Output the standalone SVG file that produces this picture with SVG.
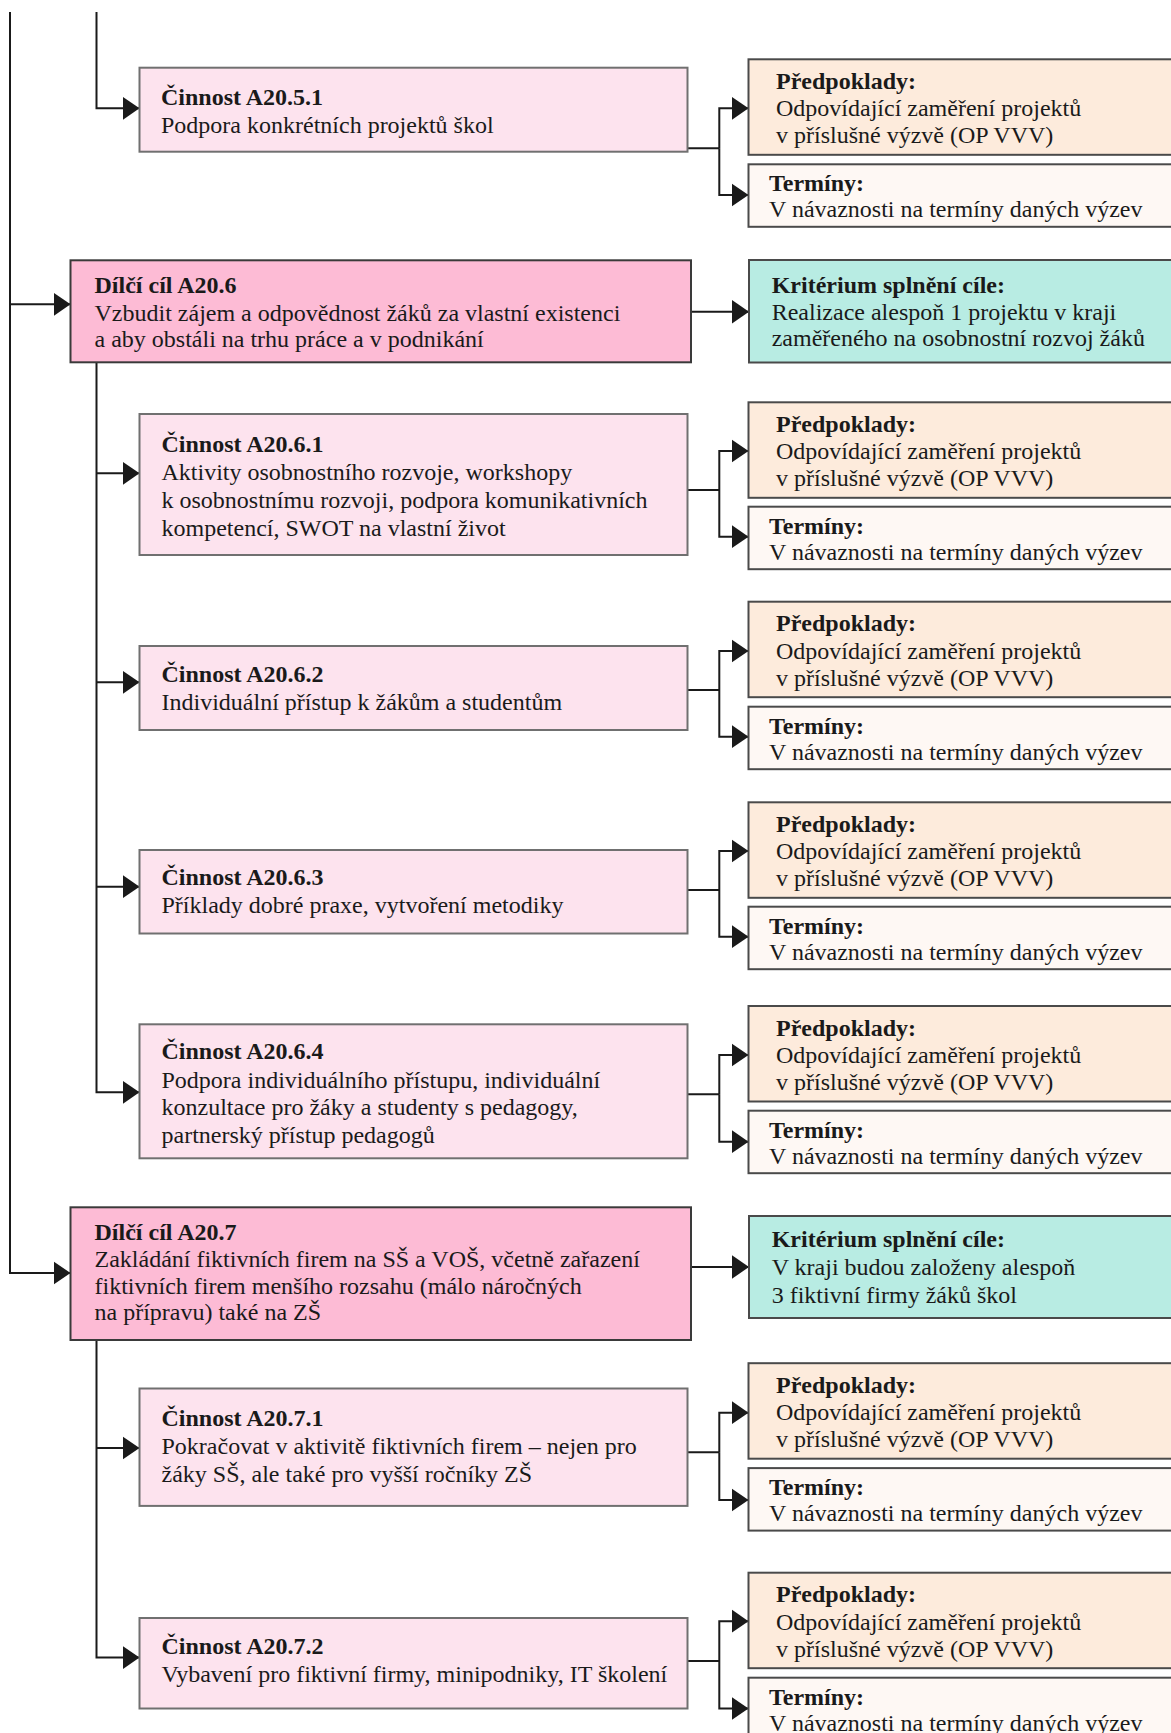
<svg xmlns="http://www.w3.org/2000/svg" width="1171" height="1733" viewBox="0 0 1171 1733">
<defs>
<style>
.ln{stroke:#1a1a1a;stroke-width:2;fill:none}
.ar{marker-end:url(#arr)}
.act rect{fill:#fde3ee;stroke:#707070;stroke-width:2}
.goal rect{fill:#fdbbd5;stroke:#3a3a3a;stroke-width:2}
.pre rect{fill:#fdebdc;stroke:#4a4a4a;stroke-width:2}
.ter rect{fill:#fef8f4;stroke:#4a4a4a;stroke-width:2}
.kri rect{fill:#b8ece3;stroke:#4a4a4a;stroke-width:2}
text{font-family:"Liberation Serif","Times New Roman",serif;font-size:24px;fill:#1a1a1a}
.b{font-weight:bold}
</style>
<marker id="arr" markerUnits="userSpaceOnUse" markerWidth="17" markerHeight="24" refX="17" refY="11.7" orient="auto" viewBox="0 0 17 23.4">
<path d="M0,0 L17,11.7 L0,23.4 Z" fill="#1a1a1a"/>
</marker>
</defs>
<rect width="1171" height="1733" fill="#ffffff"/>

<g id="connectors">
<path class="ln ar" d="M10,12 V1273 H70.5"/>
<path class="ln ar" d="M10,304.3 H70.5"/>
<path class="ln ar" d="M96.5,12 V108.3 H139.5"/>
<path class="ln ar" d="M96.5,362.3 V1092.3 H139.5"/>
<path class="ln ar" d="M96.5,473.3 H139.5"/>
<path class="ln ar" d="M96.5,682.3 H139.5"/>
<path class="ln ar" d="M96.5,886.7 H139.5"/>
<path class="ln ar" d="M96.5,1340 V1657.6 H139.5"/>
<path class="ln ar" d="M96.5,1448 H139.5"/>
<path class="ln ar" d="M691,311.7 H749"/>
<path class="ln ar" d="M691,1267 H749"/>
<!-- G0 -->
<path class="ln" d="M687.5,148.3 H719.3"/>
<path class="ln ar" d="M719.3,148.3 V108.3 H748.5"/>
<path class="ln ar" d="M719.3,148.3 V195 H748.5"/>
<!-- G1 -->
<path class="ln" d="M687.5,490 H719.3"/>
<path class="ln ar" d="M719.3,490 V451 H748.5"/>
<path class="ln ar" d="M719.3,490 V536.7 H748.5"/>
<!-- G2 -->
<path class="ln" d="M687.5,690 H719.3"/>
<path class="ln ar" d="M719.3,690 V651 H748.5"/>
<path class="ln ar" d="M719.3,690 V736.7 H748.5"/>
<!-- G3 -->
<path class="ln" d="M687.5,890 H719.3"/>
<path class="ln ar" d="M719.3,890 V851 H748.5"/>
<path class="ln ar" d="M719.3,890 V936.7 H748.5"/>
<!-- G4 -->
<path class="ln" d="M687.5,1094.3 H719.3"/>
<path class="ln ar" d="M719.3,1094.3 V1055 H748.5"/>
<path class="ln ar" d="M719.3,1094.3 V1141.7 H748.5"/>
<!-- G5 -->
<path class="ln" d="M687.5,1452.2 H719.3"/>
<path class="ln ar" d="M719.3,1452.2 V1412.7 H748.5"/>
<path class="ln ar" d="M719.3,1452.2 V1500 H748.5"/>
<!-- G6 -->
<path class="ln" d="M687.5,1661 H719.3"/>
<path class="ln ar" d="M719.3,1661 V1621.2 H748.5"/>
<path class="ln ar" d="M719.3,1661 V1708.5 H748.5"/>
</g>

<g id="a20-5-1" class="act">
<rect x="139.5" y="67.7" width="548" height="84"/>
<text x="161" y="105" class="b">Činnost A20.5.1</text>
<text x="161" y="132.7">Podpora konkrétních projektů škol</text>
</g>

<g id="a20-6" class="goal">
<rect x="70.5" y="260.3" width="620.5" height="102"/>
<text x="94.5" y="293.3" class="b">Dílčí cíl A20.6</text>
<text x="94.5" y="320.7">Vzbudit zájem a odpovědnost žáků za vlastní existenci</text>
<text x="94.5" y="347.3">a aby obstáli na trhu práce a v podnikání</text>
</g>

<g id="a20-6-1" class="act">
<rect x="139.5" y="414" width="548" height="141"/>
<text x="161.5" y="451.7" class="b">Činnost A20.6.1</text>
<text x="161.5" y="480">Aktivity osobnostního rozvoje, workshopy</text>
<text x="161.5" y="508.3">k osobnostnímu rozvoji, podpora komunikativních</text>
<text x="161.5" y="536">kompetencí, SWOT na vlastní život</text>
</g>

<g id="a20-6-2" class="act">
<rect x="139.5" y="646" width="548" height="84"/>
<text x="161.5" y="681.7" class="b">Činnost A20.6.2</text>
<text x="161.5" y="710">Individuální přístup k žákům a studentům</text>
</g>

<g id="a20-6-3" class="act">
<rect x="139.5" y="850" width="548" height="83.5"/>
<text x="161.5" y="885" class="b">Činnost A20.6.3</text>
<text x="161.5" y="913.3">Příklady dobré praxe, vytvoření metodiky</text>
</g>

<g id="a20-6-4" class="act">
<rect x="139.5" y="1024.3" width="548" height="134"/>
<text x="161.5" y="1059.3" class="b">Činnost A20.6.4</text>
<text x="161.5" y="1087.7">Podpora individuálního přístupu, individuální</text>
<text x="161.5" y="1115">konzultace pro žáky a studenty s pedagogy,</text>
<text x="161.5" y="1142.7">partnerský přístup pedagogů</text>
</g>

<g id="a20-7" class="goal">
<rect x="70.5" y="1207.3" width="620.5" height="132.7"/>
<text x="94.5" y="1240.2" class="b">Dílčí cíl A20.7</text>
<text x="94.5" y="1266.9">Zakládání fiktivních firem na SŠ a VOŠ, včetně zařazení</text>
<text x="94.5" y="1293.9">fiktivních firem menšího rozsahu (málo náročných</text>
<text x="94.5" y="1319.9">na přípravu) také na ZŠ</text>
</g>

<g id="a20-7-1" class="act">
<rect x="139.5" y="1388.5" width="548" height="117.4"/>
<text x="161.5" y="1425.5" class="b">Činnost A20.7.1</text>
<text x="161.5" y="1454.3">Pokračovat v aktivitě fiktivních firem – nejen pro</text>
<text x="161.5" y="1482">žáky SŠ, ale také pro vyšší ročníky ZŠ</text>
</g>

<g id="a20-7-2" class="act">
<rect x="139.5" y="1618" width="548" height="90.5"/>
<text x="161.5" y="1654.1" class="b">Činnost A20.7.2</text>
<text x="161.5" y="1681.9">Vybavení pro fiktivní firmy, minipodniky, IT školení</text>
</g>

<g id="krit-a20-6" class="kri">
<rect x="749" y="260" width="440" height="102.5"/>
<text x="771.7" y="293.3" class="b">Kritérium splnění cíle:</text>
<text x="771.7" y="320">Realizace alespoň 1 projektu v kraji</text>
<text x="771.7" y="346">zaměřeného na osobnostní rozvoj žáků</text>
</g>

<g id="krit-a20-7" class="kri">
<rect x="749" y="1216" width="440" height="102"/>
<text x="771.7" y="1247.2" class="b">Kritérium splnění cíle:</text>
<text x="771.7" y="1274.9">V kraji budou založeny alespoň</text>
<text x="771.7" y="1302.6">3 fiktivní firmy žáků škol</text>
</g>

<g id="pre-a20-5-1" class="pre">
<rect x="748.5" y="59.3" width="440" height="95.5"/>
<text x="776" y="88.8" class="b">Předpoklady:</text>
<text x="776" y="116.3">Odpovídající zaměření projektů</text>
<text x="776" y="143.3">v příslušné výzvě (OP VVV)</text>
</g>
<g id="ter-a20-5-1" class="ter">
<rect x="748.5" y="164.3" width="440" height="62.5"/>
<text x="769" y="191.3" class="b">Termíny:</text>
<text x="769" y="217.3">V návaznosti na termíny daných výzev</text>
</g>

<g id="pre-a20-6-1" class="pre">
<rect x="748.5" y="402.3" width="440" height="95.5"/>
<text x="776" y="431.8" class="b">Předpoklady:</text>
<text x="776" y="459.3">Odpovídající zaměření projektů</text>
<text x="776" y="486.3">v příslušné výzvě (OP VVV)</text>
</g>
<g id="ter-a20-6-1" class="ter">
<rect x="748.5" y="506.7" width="440" height="62.5"/>
<text x="769" y="533.7" class="b">Termíny:</text>
<text x="769" y="559.7">V návaznosti na termíny daných výzev</text>
</g>

<g id="pre-a20-6-2" class="pre">
<rect x="748.5" y="601.7" width="440" height="95.5"/>
<text x="776" y="631.2" class="b">Předpoklady:</text>
<text x="776" y="658.7">Odpovídající zaměření projektů</text>
<text x="776" y="685.7">v příslušné výzvě (OP VVV)</text>
</g>
<g id="ter-a20-6-2" class="ter">
<rect x="748.5" y="706.7" width="440" height="62.5"/>
<text x="769" y="733.7" class="b">Termíny:</text>
<text x="769" y="759.7">V návaznosti na termíny daných výzev</text>
</g>

<g id="pre-a20-6-3" class="pre">
<rect x="748.5" y="802.3" width="440" height="95.5"/>
<text x="776" y="831.8" class="b">Předpoklady:</text>
<text x="776" y="859.3">Odpovídající zaměření projektů</text>
<text x="776" y="886.3">v příslušné výzvě (OP VVV)</text>
</g>
<g id="ter-a20-6-3" class="ter">
<rect x="748.5" y="906.7" width="440" height="62.5"/>
<text x="769" y="933.7" class="b">Termíny:</text>
<text x="769" y="959.7">V návaznosti na termíny daných výzev</text>
</g>

<g id="pre-a20-6-4" class="pre">
<rect x="748.5" y="1006" width="440" height="95.5"/>
<text x="776" y="1035.5" class="b">Předpoklady:</text>
<text x="776" y="1063">Odpovídající zaměření projektů</text>
<text x="776" y="1090">v příslušné výzvě (OP VVV)</text>
</g>
<g id="ter-a20-6-4" class="ter">
<rect x="748.5" y="1110.7" width="440" height="62.5"/>
<text x="769" y="1137.7" class="b">Termíny:</text>
<text x="769" y="1163.7">V návaznosti na termíny daných výzev</text>
</g>

<g id="pre-a20-7-1" class="pre">
<rect x="748.5" y="1363.2" width="440" height="95.5"/>
<text x="776" y="1392.7" class="b">Předpoklady:</text>
<text x="776" y="1420.2">Odpovídající zaměření projektů</text>
<text x="776" y="1447.2">v příslušné výzvě (OP VVV)</text>
</g>
<g id="ter-a20-7-1" class="ter">
<rect x="748.5" y="1468.1" width="440" height="62.5"/>
<text x="769" y="1495.1" class="b">Termíny:</text>
<text x="769" y="1521.1">V návaznosti na termíny daných výzev</text>
</g>

<g id="pre-a20-7-2" class="pre">
<rect x="748.5" y="1572.7" width="440" height="95.5"/>
<text x="776" y="1602.2" class="b">Předpoklady:</text>
<text x="776" y="1629.7">Odpovídající zaměření projektů</text>
<text x="776" y="1656.7">v příslušné výzvě (OP VVV)</text>
</g>
<g id="ter-a20-7-2" class="ter">
<rect x="748.5" y="1677.7" width="440" height="62.5"/>
<text x="769" y="1704.7" class="b">Termíny:</text>
<text x="769" y="1730.7">V návaznosti na termíny daných výzev</text>
</g>
</svg>
